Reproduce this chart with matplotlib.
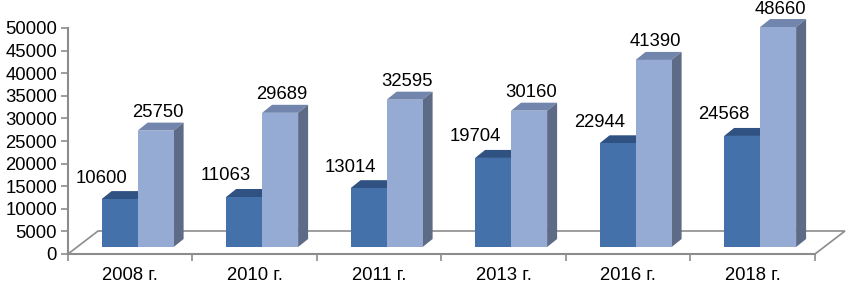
import matplotlib
matplotlib.use('Agg')
import matplotlib.pyplot as plt
from matplotlib.patches import Polygon

years = ['2008 г.', '2010 г.', '2011 г.', '2013 г.', '2016 г.', '2018 г.']
series_a = [10600, 11063, 13014, 19704, 22944, 24568]
series_b = [25750, 29689, 32595, 30160, 41390, 48660]

plt.rcParams['font.family'] = ['Liberation Sans', 'DejaVu Sans']

W, H = 851, 284
fig = plt.figure(figsize=(W / 100, H / 100), dpi=100)
# axes box in pixels: x 68..843, y 254 (0) .. 28 (50000)
ax = fig.add_axes([68 / W, (H - 254) / H, (843 - 68) / W, (254 - 28) / H])
ax.set_xlim(-0.5, 5.725)
ax.set_ylim(0, 50000)

px_x = (843 - 68) / 6.225      # pixels per category
px_y = (254 - 28) / 50000      # pixels per value unit

# pseudo 3d offsets
bdx, bdy = 10 / px_x, 8 / px_y       # bar depth
fdx, fdy = 30 / px_x, 23 / px_y      # floor depth
base = 7 / px_y                      # bars stand a bit behind the front edge
width = 36 / px_x
shift = -0.23

dark_front, dark_top = '#4571aa', '#2f5283'
light_front, light_top, light_side = '#95abd3', '#7286ad', '#5d6b86'

# floor
floor = Polygon([(-0.5, 0), (5.5, 0), (5.5 + fdx, fdy), (-0.5 + fdx, fdy)],
                closed=True, facecolor='white', edgecolor='#8c8c8c', lw=1.2,
                zorder=1, clip_on=False)
ax.add_patch(floor)

xs = list(range(len(years)))
xa = [x + shift for x in xs]
xb = [x + shift + width for x in xs]

ax.bar(xa, series_a, width=width, bottom=base, align='edge',
       color=dark_front, zorder=3, clip_on=False)
ax.bar(xb, series_b, width=width, bottom=base, align='edge',
       color=light_front, zorder=4, clip_on=False)

for x0, v in zip(xa, series_a):
    top = base + v
    ax.add_patch(Polygon([(x0, top), (x0 + width, top), (x0 + width + bdx, top + bdy),
                          (x0 + bdx, top + bdy)], closed=True, facecolor=dark_top,
                         edgecolor='none', zorder=2.5, clip_on=False))
    ax.text(x0 + width / 2 - 18 / px_x, top + bdy + 13 / px_y, str(v),
            ha='center', va='center', fontsize=13.3, zorder=6, clip_on=False)

for x0, v in zip(xb, series_b):
    top = base + v
    ax.add_patch(Polygon([(x0, top), (x0 + width, top), (x0 + width + bdx, top + bdy),
                          (x0 + bdx, top + bdy)], closed=True, facecolor=light_top,
                         edgecolor='none', zorder=3.5, clip_on=False))
    ax.add_patch(Polygon([(x0 + width, base), (x0 + width + bdx, base + bdy),
                          (x0 + width + bdx, top + bdy), (x0 + width, top)],
                         closed=True, facecolor=light_side, edgecolor='none',
                         zorder=3.5, clip_on=False))
    ax.text(x0 + width / 2 + 2 / px_x, top + bdy + 10 / px_y, str(v),
            ha='center', va='center', fontsize=13.3, zorder=6, clip_on=False)

for s in ['top', 'right']:
    ax.spines[s].set_visible(False)
ax.spines['left'].set_color('#8c8c8c')
ax.spines['left'].set_linewidth(1.5)
ax.spines['bottom'].set_color('#8c8c8c')
ax.spines['bottom'].set_linewidth(1.5)
ax.spines['bottom'].set_bounds(-0.5, 5.5)
ax.spines['bottom'].set_zorder(2)

ax.set_yticks(range(0, 50001, 5000))
ax.tick_params(axis='y', length=5, width=1.2, color='#8c8c8c', labelsize=13.3, pad=3)
ax.set_xticks(xs)
ax.set_xticklabels(years)
ax.set_xticks([x - 0.5 for x in range(7)], minor=True)
ax.tick_params(axis='x', which='major', length=0, labelsize=13.3, pad=9)
ax.tick_params(axis='x', which='minor', length=5, width=1.2, color='#8c8c8c')

fig.savefig('out.png', dpi=100)
